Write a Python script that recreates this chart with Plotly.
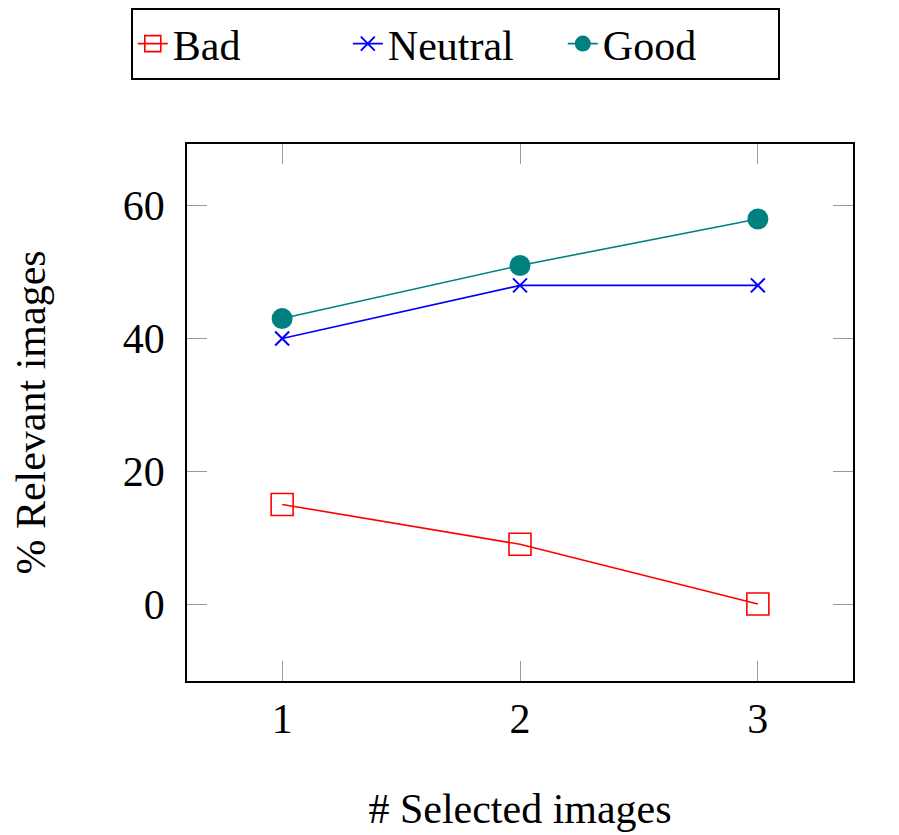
import plotly.graph_objects as go

selected = [1, 2, 3]
bad = [15, 9, 0]
neutral = [40, 48, 48]
good = [43, 51, 58]

font = 'Liberation Serif'
fsize = 42

fig = go.Figure()
fig.add_trace(go.Scatter(x=selected, y=bad, name='Bad', mode='lines+markers',
                         line=dict(color='#ff0000', width=1.6),
                         marker=dict(symbol='square-open', size=22, color='#ff0000',
                                     line=dict(width=1.6))))
fig.add_trace(go.Scatter(x=selected, y=neutral, name='Neutral', mode='lines+markers',
                         line=dict(color='#0000ff', width=1.6),
                         marker=dict(symbol='x-thin-open', size=14, color='#0000ff',
                                     line=dict(width=2, color='#0000ff'))))
fig.add_trace(go.Scatter(x=selected, y=good, name='Good', mode='lines+markers',
                         line=dict(color='#008080', width=1.6),
                         marker=dict(symbol='circle', size=21, color='#008080')))

axis_style = dict(ticks='inside', ticklen=20, tickcolor='#9a9a9a', showline=True,
                  linecolor='black', linewidth=1.5, mirror='ticks', showgrid=False,
                  zeroline=False, automargin=False,
                  tickfont=dict(family=font, size=fsize, color='black'))

fig.update_xaxes(range=[0.6, 3.4], tickvals=[1, 2, 3], **axis_style,
                 title=dict(text='# Selected images', standoff=52,
                            font=dict(family=font, size=fsize, color='black')))
fig.update_yaxes(range=[-11.6, 69.3], tickvals=[0, 20, 40, 60], **axis_style,
                 ticklabelstandoff=12,
                 title=dict(text='% Relevant images', standoff=68,
                            font=dict(family=font, size=fsize, color='black')))

fig.update_layout(
    width=899, height=835,
    margin=dict(l=179, r=54, t=136, b=162),
    plot_bgcolor='white', paper_bgcolor='white',
    legend=dict(orientation='h', x=123 / 899, y=1, xref='container', yref='container',
                xanchor='left', yanchor='top',
                bordercolor='black', borderwidth=1.8,
                font=dict(family=font, size=fsize, color='black'),
                entrywidth=170, entrywidthmode='pixels', itemwidth=30, tracegroupgap=0),
    showlegend=True,
)

fig.write_html("out.html")
